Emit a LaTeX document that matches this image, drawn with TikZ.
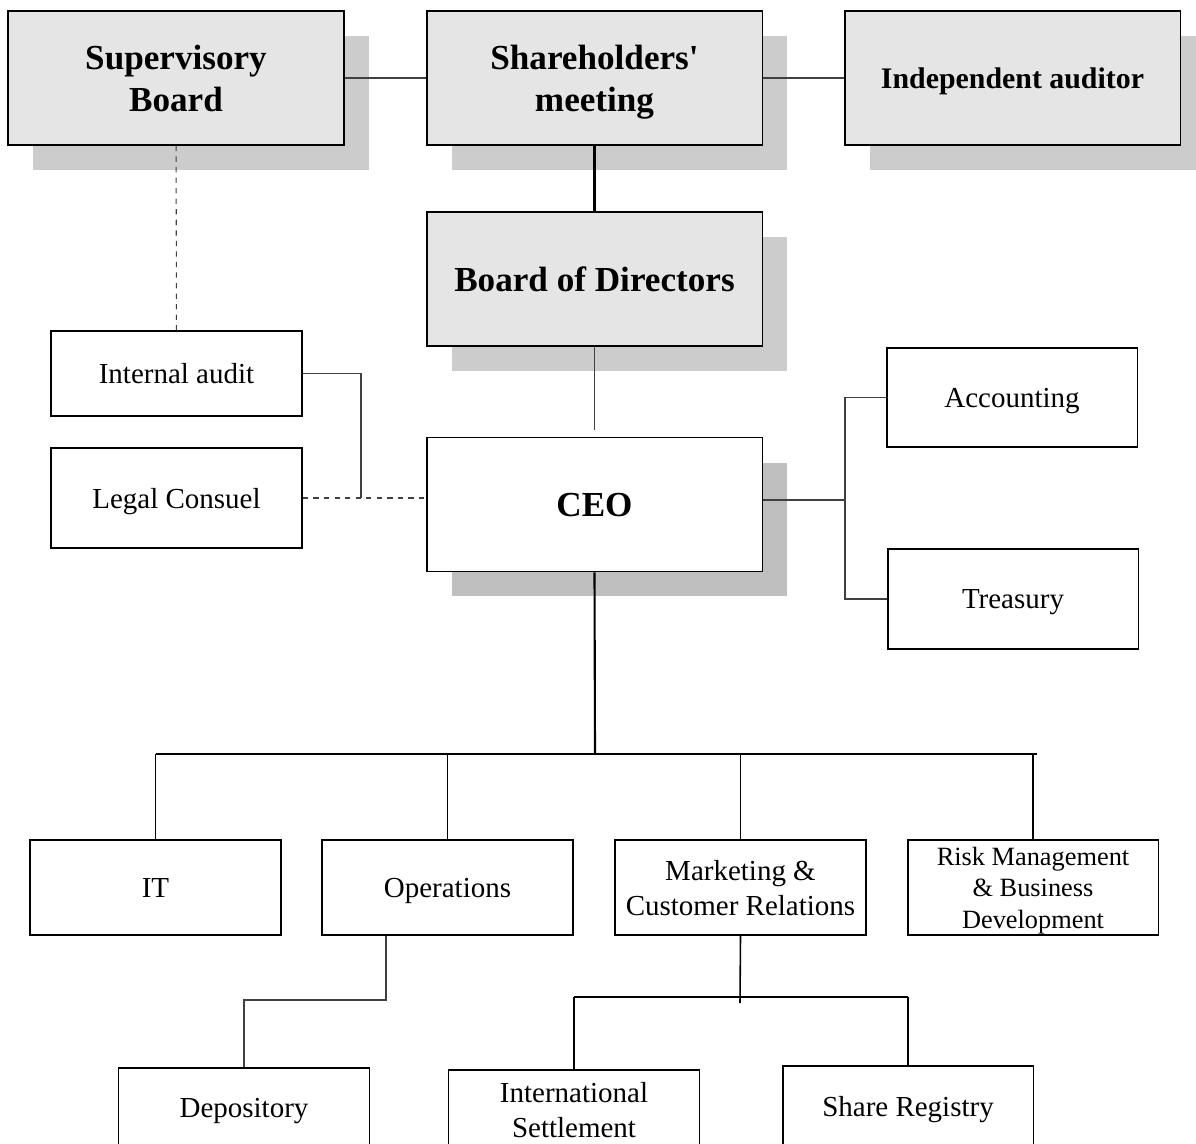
\documentclass[tikz,border=0pt]{standalone}
\usepackage{fontspec}
\setmainfont{Liberation Serif}
\usetikzlibrary{shadows}
\tikzset{
  bigbox/.style={draw, line width=1.1pt, minimum width=6.72cm, minimum height=2.68cm,
    align=center, text depth=0pt, font=\fontsize{20}{24}\selectfont\bfseries},
  graybox/.style={bigbox, fill=black!10,
    drop shadow={shadow xshift=0.5cm, shadow yshift=-0.5cm, fill=black!20, opacity=1}},
  ceobox/.style={bigbox, fill=white,
    drop shadow={shadow xshift=0.5cm, shadow yshift=-0.5cm, fill=black!25, opacity=1}},
  unitbox/.style={draw, line width=1.1pt, fill=white, minimum width=5.02cm, minimum height=1.9cm,
    align=center, text depth=0pt, font=\fontsize{16.5}{20}\selectfont},
  link/.style={black!75, line width=0.6pt},
  dashlink/.style={link, dashed},
  trunk/.style={black, line width=1.2pt}
}
\begin{document}
\begin{tikzpicture}[x=0.02cm, y=-0.02cm]
  \clip (0,0) rectangle (1196,1143);
  % governing bodies
  \node[graybox] (sup) at (176,78) {Supervisory\\Board};
  \node[graybox] (share) at (594.5,78) {Shareholders\textquotesingle\\meeting};
  \node[graybox, font=\fontsize{17}{20}\selectfont\bfseries] (indep) at (1012.5,78) {Independent auditor};
  \node[graybox] (bod) at (594.5,279) {Board of Directors};
  \node[ceobox] (ceo) at (594.5,504.5) {CEO};
  % staff units
  \node[unitbox, minimum height=1.7cm] (audit) at (176.5,373.5) {Internal audit};
  \node[unitbox, minimum height=2cm] (legal) at (176.5,498) {Legal Consuel};
  \node[unitbox, minimum height=1.98cm] (acc) at (1012,397.5) {Accounting};
  \node[unitbox, minimum height=2cm] (tre) at (1013,599) {Treasury};
  % departments
  \node[unitbox] (it) at (155.5,887.5) {IT};
  \node[unitbox] (ops) at (447.5,887.5) {Operations};
  \node[unitbox] (mkt) at (740.5,887.5) {Marketing \&\\Customer Relations};
  \node[unitbox, font=\fontsize{15}{18}\selectfont] (risk) at (1033,887.5) {Risk Management\\\& Business\\Development};
  \node[unitbox, minimum height=1.6cm] (dep) at (244,1108) {Depository};
  \node[unitbox, minimum height=1.6cm] (intl) at (574,1110) {International\\Settlement};
  \node[unitbox, minimum height=1.6cm] (reg) at (908,1106) {Share Registry};
  % helper points
  \coordinate (ljoin) at (361,498);
  \coordinate (rjoin) at (845,500);
  \coordinate (bus) at (595,754);
  \coordinate (obend) at (386,1000);
  \coordinate (sbus) at (740,997);
  % connectors
  \draw[link] (sup) -- (share);
  \draw[link] (share) -- (indep);
  \draw[trunk] (share) -- (bod);
  \draw[dashlink] (sup) -- (audit);
  \draw[link, shorten >=0.14cm] (bod) -- (ceo);
  \draw[link] (audit.east) -| (ljoin);
  \draw[dashlink] (legal.east) -- (legal.east -| ceo.west);
  \draw[link] (ceo.east |- rjoin) -- (rjoin);
  \draw[link] (acc.west) -| (rjoin) |- (tre.west);
  \draw[trunk] (ceo.south) -- (bus);
  \draw[trunk] (it.north |- bus) -- (1037,754);
  \foreach \d in {it,ops,mkt,risk}
    \draw[trunk, line width=0.9pt] (\d.north |- bus) -- (\d.north);
  \draw[link] (obend |- ops.south) -- (obend) -| (dep.north);
  \draw[trunk, line width=0.9pt] (mkt.south) -- ([yshift=-0.12cm]sbus);
  \draw[trunk] (intl.north |- sbus) -- (reg.north |- sbus);
  \draw[trunk, line width=0.9pt] (intl.north |- sbus) -- (intl.north);
  \draw[trunk, line width=0.9pt] (reg.north |- sbus) -- (reg.north);
\end{tikzpicture}
\end{document}
